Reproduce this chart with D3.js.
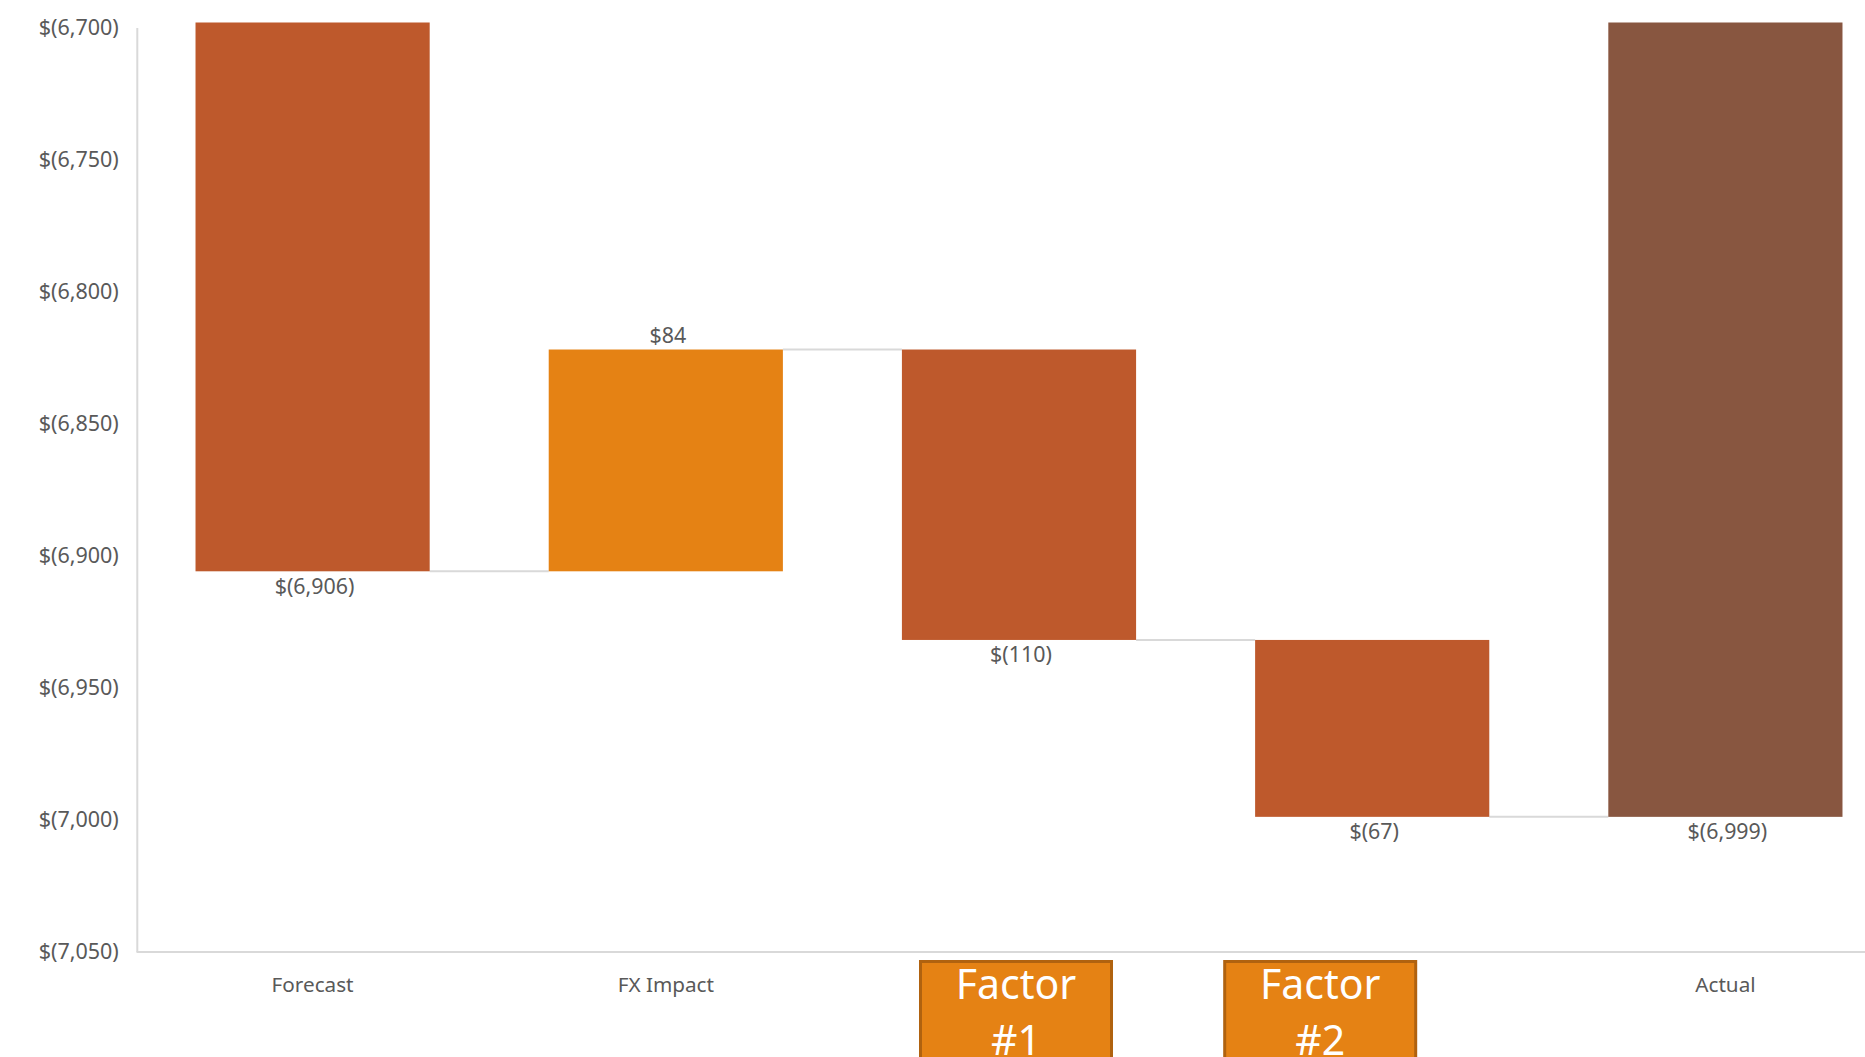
<!DOCTYPE html>
<html>
<head>
<meta charset="utf-8">
<script src="https://cdn.jsdelivr.net/npm/d3@7"></script>
<style>
  body { margin: 0; background: #fff; }
  svg { display: block; font-family: "Noto Sans", sans-serif; }
</style>
</head>
<body>
<div id="chart"></div>
<script>
// waterfall data
const categories = ['Forecast', 'FX Impact', 'Factor #1', 'Factor #2', 'Actual'];
const values = [-6906, 84, -110, -67, -6999];
const isTotal = [false, false, false, false, true];
const yTicks = [-6700, -6750, -6800, -6850, -6900, -6950, -7000, -7050];
const boxed = ['Factor #1', 'Factor #2'];
const boxShift = [-3, -52];

const width = 1865;
const height = 1057;

const colors = {increase: '#e58214', decrease: '#be592c', total: '#885640'};

const svg = d3.select('#chart')
  .append('svg')
  .attr('width', width)
  .attr('height', height);

const x = d3.scaleBand()
  .domain(categories)
  .range([136, 1902])
  .paddingInner(0.337)
  .paddingOuter(0.1685);

const y = d3.scaleLinear()
  .domain([-7050, -6700])
  .range([951.5, 27.4]);

const money = v => v < 0 ? `$(${d3.format(',')(-v)})` : `$${d3.format(',')(v)}`;

// running totals
let cum = 0;
const bars = categories.map((c, i) => {
  let start, end;
  if (isTotal[i]) { start = 0; end = values[i]; }
  else { start = cum; end = cum + values[i]; }
  cum = end;
  const kind = isTotal[i] ? 'total' : (values[i] >= 0 ? 'increase' : 'decrease');
  return {cat: c, value: values[i], start, end, kind};
});

svg.append('defs').append('clipPath').attr('id', 'plot')
  .append('rect').attr('x', 136).attr('y', 22.6).attr('width', width).attr('height', 951.5 - 22.6);

// connectors
const links = bars.slice(0, -1).map((d, i) => ({from: d, to: bars[i + 1]}));
svg.append('g')
  .selectAll('line')
  .data(links)
  .join('line')
  .attr('x1', d => x(d.from.cat) + x.bandwidth())
  .attr('x2', d => x(d.to.cat))
  .attr('y1', d => y(d.from.end))
  .attr('y2', d => y(d.from.end))
  .attr('stroke', '#d9d9d9')
  .attr('stroke-width', 2);

svg.append('g')
  .attr('clip-path', 'url(#plot)')
  .selectAll('rect')
  .data(bars)
  .join('rect')
  .attr('x', d => x(d.cat))
  .attr('width', x.bandwidth())
  .attr('y', d => y(Math.max(d.start, d.end)))
  .attr('height', d => y(Math.min(d.start, d.end)) - y(Math.max(d.start, d.end)))
  .attr('fill', d => colors[d.kind]);

// value labels
svg.append('g')
  .selectAll('text')
  .data(bars)
  .join('text')
  .attr('x', d => x(d.cat) + x.bandwidth() / 2 + 2)
  .attr('y', d => y(d.end) + (d.value >= 0 ? -14 : 15))
  .attr('dy', '0.35em')
  .attr('text-anchor', 'middle')
  .attr('font-size', '21.4px')
  .attr('fill', '#595959')
  .text(d => money(d.value));

function yAxis(g) {
  g.attr('transform', 'translate(136.8,0)')
    .call(d3.axisLeft(y).tickValues(yTicks).tickFormat(money).tickSize(0).tickSizeOuter(0).tickPadding(18))
    .attr('font-size', '21.5px')
    .attr('font-family', null);
  g.select('.domain').attr('stroke', '#d9d9d9').attr('stroke-width', 2);
  g.selectAll('text').attr('fill', '#595959');
}

function xAxis(g) {
  g.attr('transform', 'translate(0,951.5)')
    .call(d3.axisBottom(x).tickSize(0).tickSizeOuter(0).tickPadding(26))
    .attr('font-size', '20.7px')
    .attr('font-family', null);
  g.select('.domain').attr('stroke', '#d9d9d9').attr('stroke-width', 2);
  g.selectAll('text').attr('fill', '#595959');
  g.selectAll('.tick').filter(d => boxed.includes(d)).select('text').remove();
}

svg.append('g').call(yAxis);
svg.append('g').call(xAxis);

// factor callout boxes
const boxes = svg.append('g')
  .selectAll('g')
  .data(boxed)
  .join('g')
  .attr('transform', (d, i) => `translate(${x(d) + x.bandwidth() / 2 + boxShift[i]},0)`);

boxes.append('rect')
  .attr('x', -95.5)
  .attr('y', 961.5)
  .attr('width', 191)
  .attr('height', 130)
  .attr('fill', '#e58214')
  .attr('stroke', '#b0620f')
  .attr('stroke-width', 3);

boxes.each(function(d) {
  const parts = d.split(' ');
  d3.select(this).selectAll('text')
    .data(parts)
    .join('text')
    .attr('x', 0)
    .attr('y', (p, j) => 985 + j * 56)
    .attr('dy', '0.35em')
    .attr('text-anchor', 'middle')
    .attr('font-size', '41px')
    .attr('fill', '#fff')
    .text(p => p);
});
</script>
</body>
</html>
